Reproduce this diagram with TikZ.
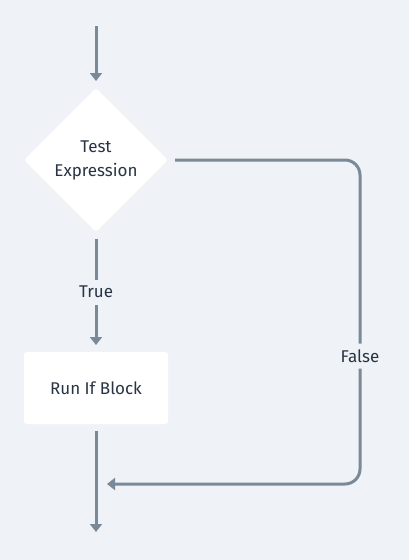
\documentclass[tikz,border=0pt]{standalone}
\usepackage{fontspec}
\setmainfont{Fira Sans}
\usetikzlibrary{shapes.geometric,arrows.meta}
\definecolor{bgcol}{RGB}{239,243,247}
\definecolor{linecol}{RGB}{122,137,152}
\definecolor{textcol}{RGB}{40,52,68}

\begin{document}
\begin{tikzpicture}[x=1pt,y=-1pt,
  every node/.style={text=textcol,font=\fontsize{17}{24}\selectfont},
  decision/.style={diamond,fill=white,rounded corners=3pt,minimum width=148pt,minimum height=148pt,inner sep=0pt,outer sep=5pt,align=center},
  block/.style={rectangle,fill=white,rounded corners=3pt,minimum width=144pt,minimum height=72pt,outer sep=7pt},
  lbl/.style={fill=bgcol,inner sep=2pt,minimum height=25pt},
  arr/.style={draw=linecol,line width=3pt,-{Triangle[width=12pt,length=8pt]}}]
\fill[bgcol] (0,0) rectangle (409,560);
\coordinate (start) at (96,26);
\node (test) at (96,160) [decision] {Test\\Expression};
\node (run) at (96,388) [block] {Run If Block};
\coordinate (merge) at (96,484);
\coordinate (stop) at (96,532);
\draw [arr] (start) -- (test);
\draw [arr] (test) -- node[lbl] {True} (run);
\draw [arr] (run) -- (stop);
\draw [arr,rounded corners=15pt,shorten >=11pt] (test.east) -- (360,160) -- node[lbl,pos=0.605] {False} (360,484) -- (merge);
\end{tikzpicture}
\end{document}
